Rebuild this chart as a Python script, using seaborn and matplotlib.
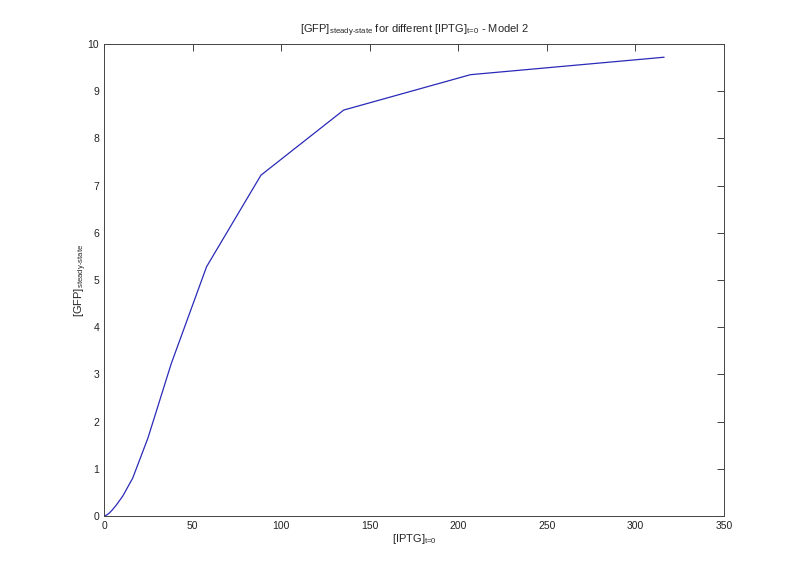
import numpy as np
import pandas as pd
import seaborn as sns
import matplotlib.pyplot as plt

# IPTG at t=0 (log-spaced) and steady-state GFP
iptg = [0.1, 0.153, 0.234, 0.357, 0.546, 0.834, 1.27, 1.95, 2.98, 4.55,
        6.95, 10.6, 16.2, 24.8, 37.9, 57.9, 88.6, 135.3, 206.9, 316.2]
gfp = [0.0, 0.0, 0.001, 0.002, 0.004, 0.008, 0.015, 0.03, 0.06, 0.12,
       0.23, 0.42, 0.8, 1.65, 3.22, 5.28, 7.22, 8.6, 9.35, 9.72]

df = pd.DataFrame({'iptg': iptg, 'gfp': gfp})

sns.set_style('white')
plt.rcParams['font.family'] = ['Liberation Sans', 'DejaVu Sans']
plt.rcParams['mathtext.fontset'] = 'custom'
plt.rcParams['mathtext.rm'] = 'Liberation Sans'
plt.rcParams['mathtext.it'] = 'Liberation Sans'

fig = plt.figure(figsize=(8, 5.79), dpi=100)
ax = fig.add_axes([0.13, 0.109, 0.775, 0.815])

sns.lineplot(x='iptg', y='gfp', data=df, ax=ax, color='#2a2ab8', linewidth=0.9)

ax.set_xlim(0, 350)
ax.set_ylim(0, 10)
ax.set_xticks(range(0, 351, 50))
ax.set_yticks(range(0, 11))
ax.tick_params(direction='in', length=5, width=0.6, labelsize=7.5,
               top=True, right=True, colors='#222222')
for s in ax.spines.values():
    s.set_linewidth(0.7)
    s.set_color('#444444')

ax.set_title(r'[GFP]$_{\text{steady-state}}$ for different [IPTG]$_{\text{t=0}}$ - Model 2',
             fontsize=8, pad=8)
ax.set_xlabel(r'[IPTG]$_{\text{t=0}}$', fontsize=8, labelpad=1)
ax.set_ylabel(r'[GFP]$_{\text{steady-state}}$', fontsize=8, labelpad=-1)

plt.savefig('out.png', dpi=100)
plt.close()
